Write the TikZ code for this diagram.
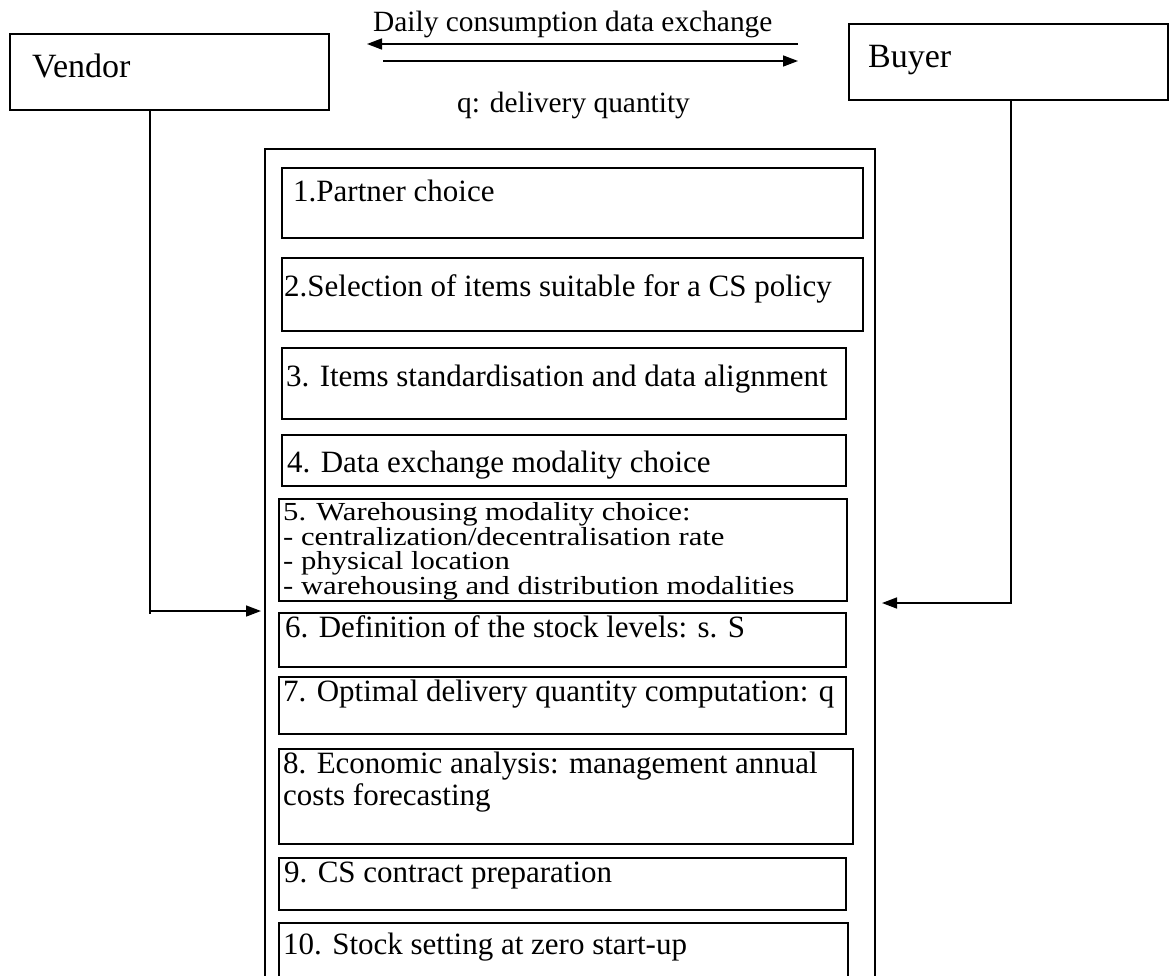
\documentclass[tikz,border=0pt]{standalone}
\usepackage{fontspec}
\setmainfont{Liberation Serif}
\newfontfamily\widefont{Liberation Serif}[FakeStretch=1.18]
\usetikzlibrary{arrows.meta}
\begin{document}
\setlength{\lineskiplimit}{-40pt}%
\begin{tikzpicture}[x=1pt,y=-1pt,
  frame/.style={draw=black, line width=1.5pt, inner sep=0pt, anchor=north west},
  hdr/.style={inner sep=0pt, anchor=base west, font=\fontsize{29.4}{30}\selectfont},
  lbl/.style={inner sep=0pt, anchor=base west, align=left, font=\fontsize{31}{24.5}\selectfont},
  biglbl/.style={inner sep=0pt, anchor=base west, font=\fontsize{34}{40}\selectfont},
  arr/.style={line width=1.5pt, -{Triangle[length=15pt,width=11pt]}},
  plain/.style={line width=1.5pt}]
\useasboundingbox (0,0) rectangle (1169,975);
\clip (0,0) rectangle (1169,975);
\fill[white] (0,0) rectangle (1169,975);

% actors
\node[frame, minimum width=319pt, minimum height=76pt] (vendor) at (9,33) {};
\node[biglbl] (vendort) at (32,77) {Vendor};
\node[frame, minimum width=319pt, minimum height=76pt] (buyer) at (848,23) {};
\node[biglbl] (buyert) at (868,67) {Buyer};

% exchange arrows
\coordinate (a1) at (798,44); \coordinate (a2) at (367,44);
\coordinate (a3) at (383,61); \coordinate (a4) at (798,61);
\draw[arr] (a1) -- (a2);
\draw[arr] (a3) -- (a4);
\node[hdr] (daily) at (373,31) {Daily consumption data exchange};
\node[hdr] (qlbl) at (457,112) {q: delivery quantity};

% outer frame
\node[frame, minimum width=610pt, minimum height=900pt] (outer) at (264,148) {};

% steps
\node[frame, minimum width=581pt, minimum height=70pt] (b1) at (281,167) {};
\node[frame, minimum width=581pt, minimum height=73pt] (b2) at (281,257) {};
\node[frame, minimum width=564pt, minimum height=71pt] (b3) at (281,347) {};
\node[frame, minimum width=564pt, minimum height=51pt] (b4) at (281,434) {};
\node[frame, minimum width=568pt, minimum height=102pt] (b5) at (278,498) {};
\node[frame, minimum width=567pt, minimum height=54pt] (b6) at (278,612) {};
\node[frame, minimum width=567pt, minimum height=57pt] (b7) at (278,676) {};
\node[frame, minimum width=574pt, minimum height=95pt] (b8) at (278,748) {};
\node[frame, minimum width=567pt, minimum height=52pt] (b9) at (278,857) {};
\node[frame, minimum width=569pt, minimum height=90pt] (b10) at (278,922) {};

\node[lbl] (t1) at ([xshift=12pt,yshift=-34pt]b1.north west) {1.Partner choice};
\node[lbl] (t2) at ([xshift=3pt,yshift=-39pt]b2.north west) {2.Selection of items suitable for a CS policy};
\node[lbl] (t3) at ([xshift=5pt,yshift=-39pt]b3.north west) {3. Items standardisation and data alignment};
\node[lbl] (t4) at ([xshift=6pt,yshift=-38pt]b4.north west) {4. Data exchange modality choice};
% multi-line: anchor is the baseline of the last line
\node[lbl, font=\widefont\fontsize{26}{24.5}\selectfont] (t5) at ([xshift=5pt,yshift=-96pt]b5.north west) {5. Warehousing modality choice:\\- centralization/decentralisation rate\\- physical location\\- warehousing and distribution modalities};
\node[lbl] (t6) at ([xshift=7pt,yshift=-25pt]b6.north west) {6. Definition of the stock levels: s. S};
\node[lbl] (t7) at ([xshift=5pt,yshift=-25pt]b7.north west) {7. Optimal delivery quantity computation: q};
\node[lbl, font=\fontsize{31}{32}\selectfont] (t8) at ([xshift=5pt,yshift=-57pt]b8.north west) {8. Economic analysis: management annual\\costs forecasting};
\node[lbl] (t9) at ([xshift=6pt,yshift=-25pt]b9.north west) {9. CS contract preparation};
\node[lbl] (t10) at ([xshift=5pt,yshift=-32pt]b10.north west) {10. Stock setting at zero start-up};

% connectors
\coordinate (vx) at (150,0);
\coordinate (vin) at (261,611);
\draw[plain] (vendor.south -| vx) -- (vx |- 0,614);
\draw[arr] (vx |- vin) -- (vin);
\coordinate (bx) at (1011,0);
\coordinate (bin) at (882,603);
\draw[plain] (buyer.south -| bx) -- (bx |- 0,604);
\draw[arr] (bx |- bin) -- (bin);
\end{tikzpicture}
\end{document}
